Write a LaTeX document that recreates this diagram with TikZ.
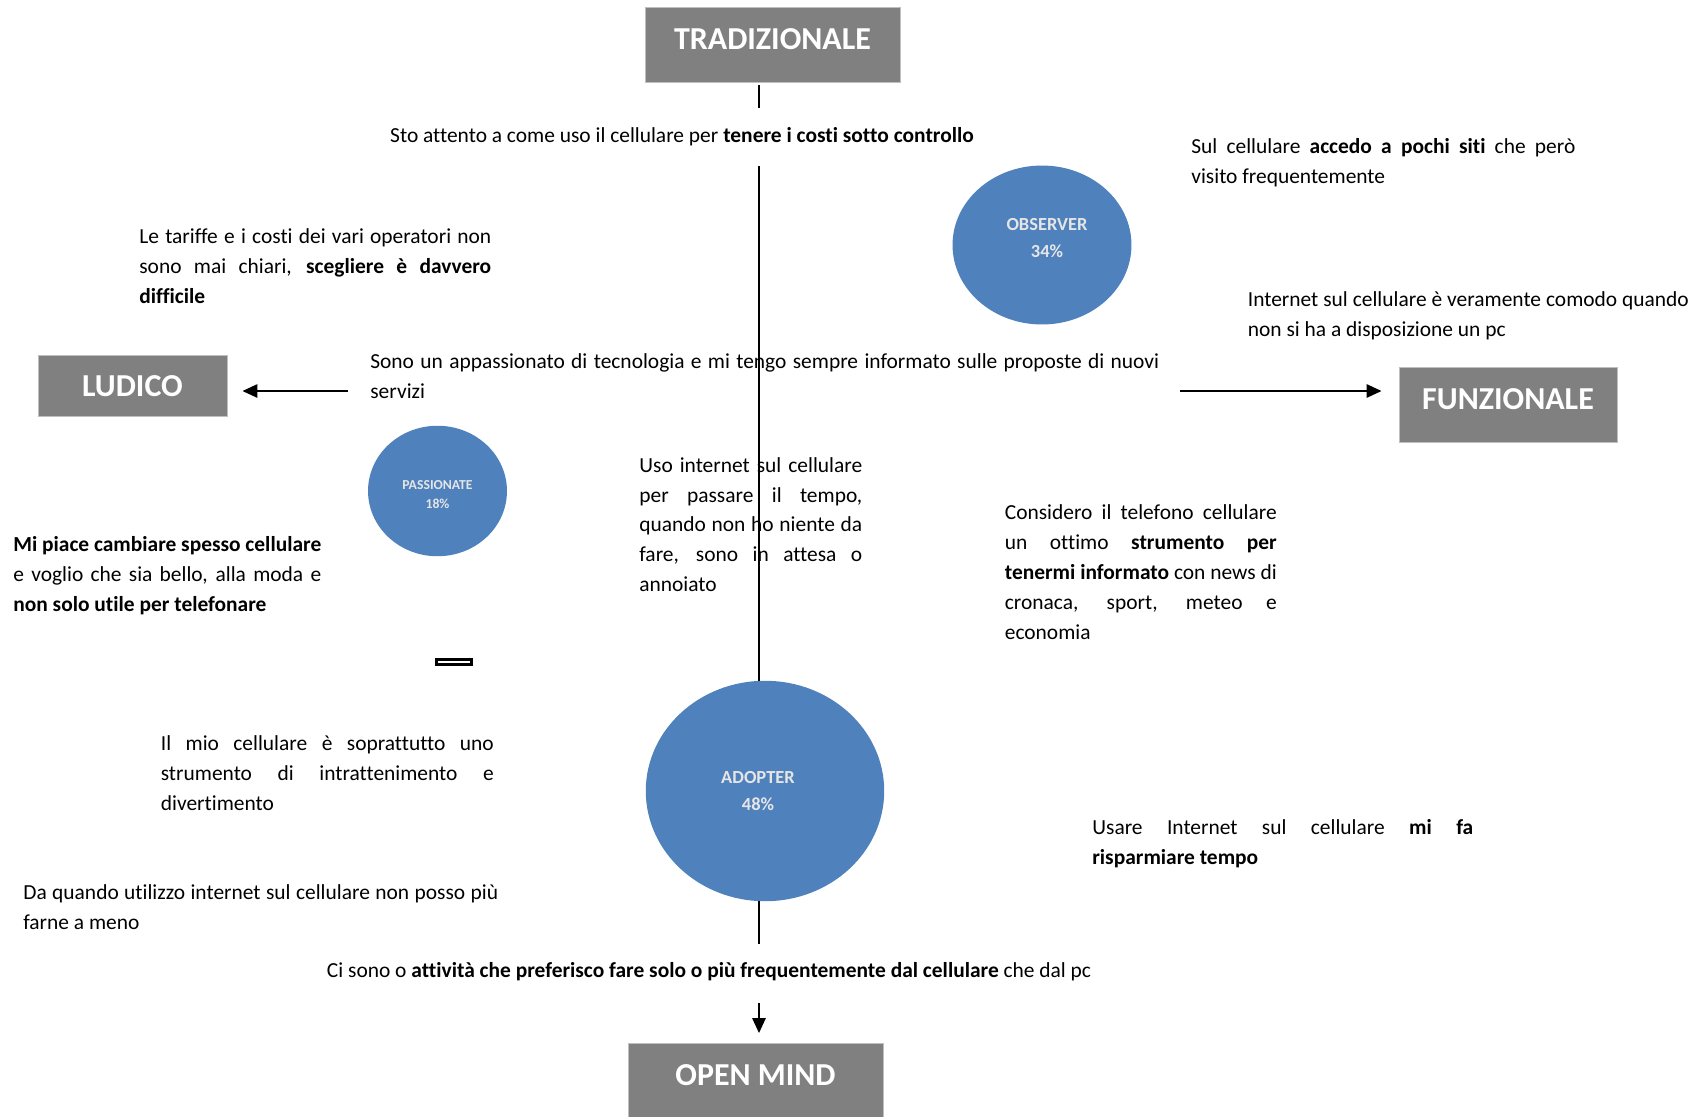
\documentclass[tikz,border=0pt]{standalone}
\usepackage{fontspec}
\setmainfont[Ligatures=NoCommon]{Carlito}
\usetikzlibrary{arrows.meta,shapes.geometric}
\definecolor{boxgray}{RGB}{128,128,128}
\definecolor{pieblue}{RGB}{79,129,189}
\newcommand\jline[1]{\makebox[\hsize][s]{\spaceskip=0pt\xspaceskip=0pt #1}}

\begin{document}
\begin{tikzpicture}[
    x=0.02cm, y=-0.02cm,
    every node/.style={inner sep=0pt},
    txt/.style={anchor=west, font=\fontsize{12.2}{17}\selectfont, align=justify},
    line/.style={font=\fontsize{12.2}{17}\selectfont},
    cat/.style={fill=boxgray, draw=black!25, text=white, font=\fontsize{18.2}{21}\selectfont\bfseries},
    seg/.style={ellipse, fill=pieblue},
    segtxt/.style={text=white!90!black, font=\fontsize{10.5}{15.5}\selectfont\bfseries, align=center},
    axis/.style={line width=1.5pt},
    arr/.style={line width=1.5pt, -{Triangle[length=0.3cm, width=0.26cm]}}
]
    \useasboundingbox (0,0) rectangle (1701,1116);

    % Categories
    \node[cat, minimum width=5.1cm, minimum height=1.5cm, text depth=0.22cm] (trad) at (772.5,45) {TRADIZIONALE};
    \node[cat, minimum width=3.78cm, minimum height=1.22cm] (ludico) at (132.5,386) {LUDICO};
    \node[cat, minimum width=4.36cm, minimum height=1.5cm, text depth=0.22cm] (funz) at (1508,405) {FUNZIONALE};
    \node[cat, minimum width=5.1cm, minimum height=1.5cm, text depth=0.22cm] (open) at (755.5,1081) {OPEN MIND};

    % Segments
    \node[seg, minimum width=3.58cm, minimum height=3.18cm] (observer) at (1042,245) {};
    \node[segtxt, xshift=0.1cm, yshift=0.14cm] (observer-txt) at (observer) {OBSERVER\\34\%};
    \node[seg, minimum width=2.78cm, minimum height=2.61cm] (passionate) at (437.5,491) {};
    \node[segtxt, yshift=-0.07cm, font=\fontsize{7.8}{11}\selectfont\bfseries] (passionate-txt) at (passionate) {PASSIONATE\\18\%};
    \node[seg, minimum width=4.77cm, minimum height=4.41cm] (adopter) at (765,791) {};
    \node[segtxt, xshift=-0.14cm] (adopter-txt) at (adopter) {ADOPTER\\48\%};
    \node[draw, line width=1.5pt, fill=white, minimum width=0.7cm, minimum height=0.11cm] (slot) at (454,662) {};

    % Statements
    \node[line] (costi) at (682,136.5) {Sto attento a come uso il cellulare per \textbf{tenere i costi sotto controllo}};
    \node[txt, text width=7.68cm] (siti) at (1191,163) {\jline{Sul cellulare \textbf{accedo a pochi siti} che però}\\ visito frequentemente};
    \node[txt, text width=7.04cm] (tariffe) at (139,266) {\jline{Le tariffe e i costi dei vari operatori non}\\ \jline{sono mai chiari, \textbf{scegliere è davvero}}\\ \textbf{difficile}};
    \node[txt, text width=8.82cm] (comodo) at (1247.5,316) {\jline{Internet sul cellulare è veramente comodo quando}\\ non si ha a disposizione un pc};
    \node[txt, text width=15.78cm] (tecno) at (370,376) {\jline{Sono un appassionato di tecnologia e mi tengo sempre informato sulle proposte di nuovi}\\ servizi};
    \node[txt, text width=4.46cm] (tempo) at (639,524.5) {\jline{Uso internet sul cellulare}\\ \jline{per passare il tempo,}\\ \jline{quando non ho niente da}\\ \jline{fare, sono in attesa o}\\ annoiato};
    \node[txt, text width=5.44cm] (news) at (1004.5,572) {\jline{Considero il telefono cellulare}\\ \jline{un ottimo \textbf{strumento per}}\\ \jline{\textbf{tenermi informato} con news di}\\ \jline{cronaca, sport, meteo e}\\ economia};
    \node[txt, text width=6.16cm] (moda) at (13,576) {\jline{\textbf{Mi piace cambiare spesso cellulare}}\\ \jline{e voglio che sia bello, alla moda e}\\ \textbf{non solo utile per telefonare}};
    \node[txt, text width=6.66cm] (svago) at (160.5,773) {\jline{Il mio cellulare è soprattutto uno}\\ \jline{strumento di intrattenimento e}\\ divertimento};
    \node[txt, text width=7.62cm] (risparmio) at (1092,844) {\jline{Usare Internet sul cellulare \textbf{mi fa}}\\ \textbf{risparmiare tempo}};
    \node[txt, text width=9.5cm] (meno) at (23,907) {\jline{Da quando utilizzo internet sul cellulare non posso più}\\ farne a meno};
    \node[line] (attivita) at (709,972) {Ci sono o \textbf{attività che preferisco fare solo o più frequentemente dal cellulare} che dal pc};

    % Axes
    \coordinate (a1) at (759,85);
    \coordinate (a2) at (759,108);
    \coordinate (a3) at (759,166);
    \coordinate (a4) at (759,681);
    \coordinate (a5) at (759,901);
    \coordinate (a6) at (759,944);
    \coordinate (a7) at (759,1003);
    \coordinate (lft) at (348,391);
    \coordinate (rgt) at (1180,391);

    \draw[axis] (a1) -- (a2);
    \draw[axis] (a3) -- (a4);
    \draw[axis] (a5) -- (a6);
    \draw[arr, shorten >=0.2cm] (a7) -- (a7 |- open.north);
    \draw[arr, shorten >=0.3cm] (lft) -- (lft -| ludico.east);
    \draw[arr, shorten >=0.34cm] (rgt) -- (rgt -| funz.west);
\end{tikzpicture}
\end{document}
